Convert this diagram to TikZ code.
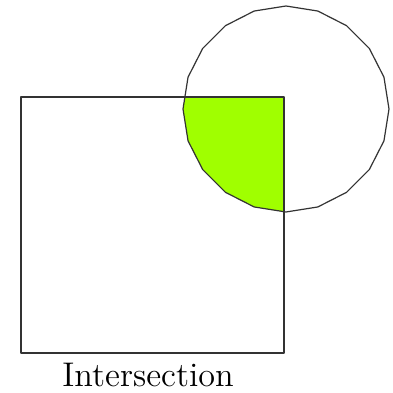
\documentclass[tikz,border=0pt]{standalone}
\definecolor{limegreen}{RGB}{160,255,0}
\tikzset{edge/.style={line width=1.2pt, draw=black!80, line join=round}}
\begin{document}
\begin{tikzpicture}[x=1pt,y=1pt]
\useasboundingbox (0,0) rectangle (392,393);
\begin{scope}
  \clip (21,40) rectangle (284,296);
  \fill[limegreen] plot[samples at={0,18,...,342}] ({286+103*cos(\x)},{284+103*sin(\x)}) -- cycle;
\end{scope}
\draw[edge] (21,40) rectangle (284,296);
\draw[edge] plot[samples at={0,18,...,342}] ({286+103*cos(\x)},{284+103*sin(\x)}) -- cycle;
\node[anchor=base, inner sep=0pt, scale=2.85, font=\fontsize{12}{14}\selectfont] (label) at (148,6.5) {Intersection};
\end{tikzpicture}
\end{document}
